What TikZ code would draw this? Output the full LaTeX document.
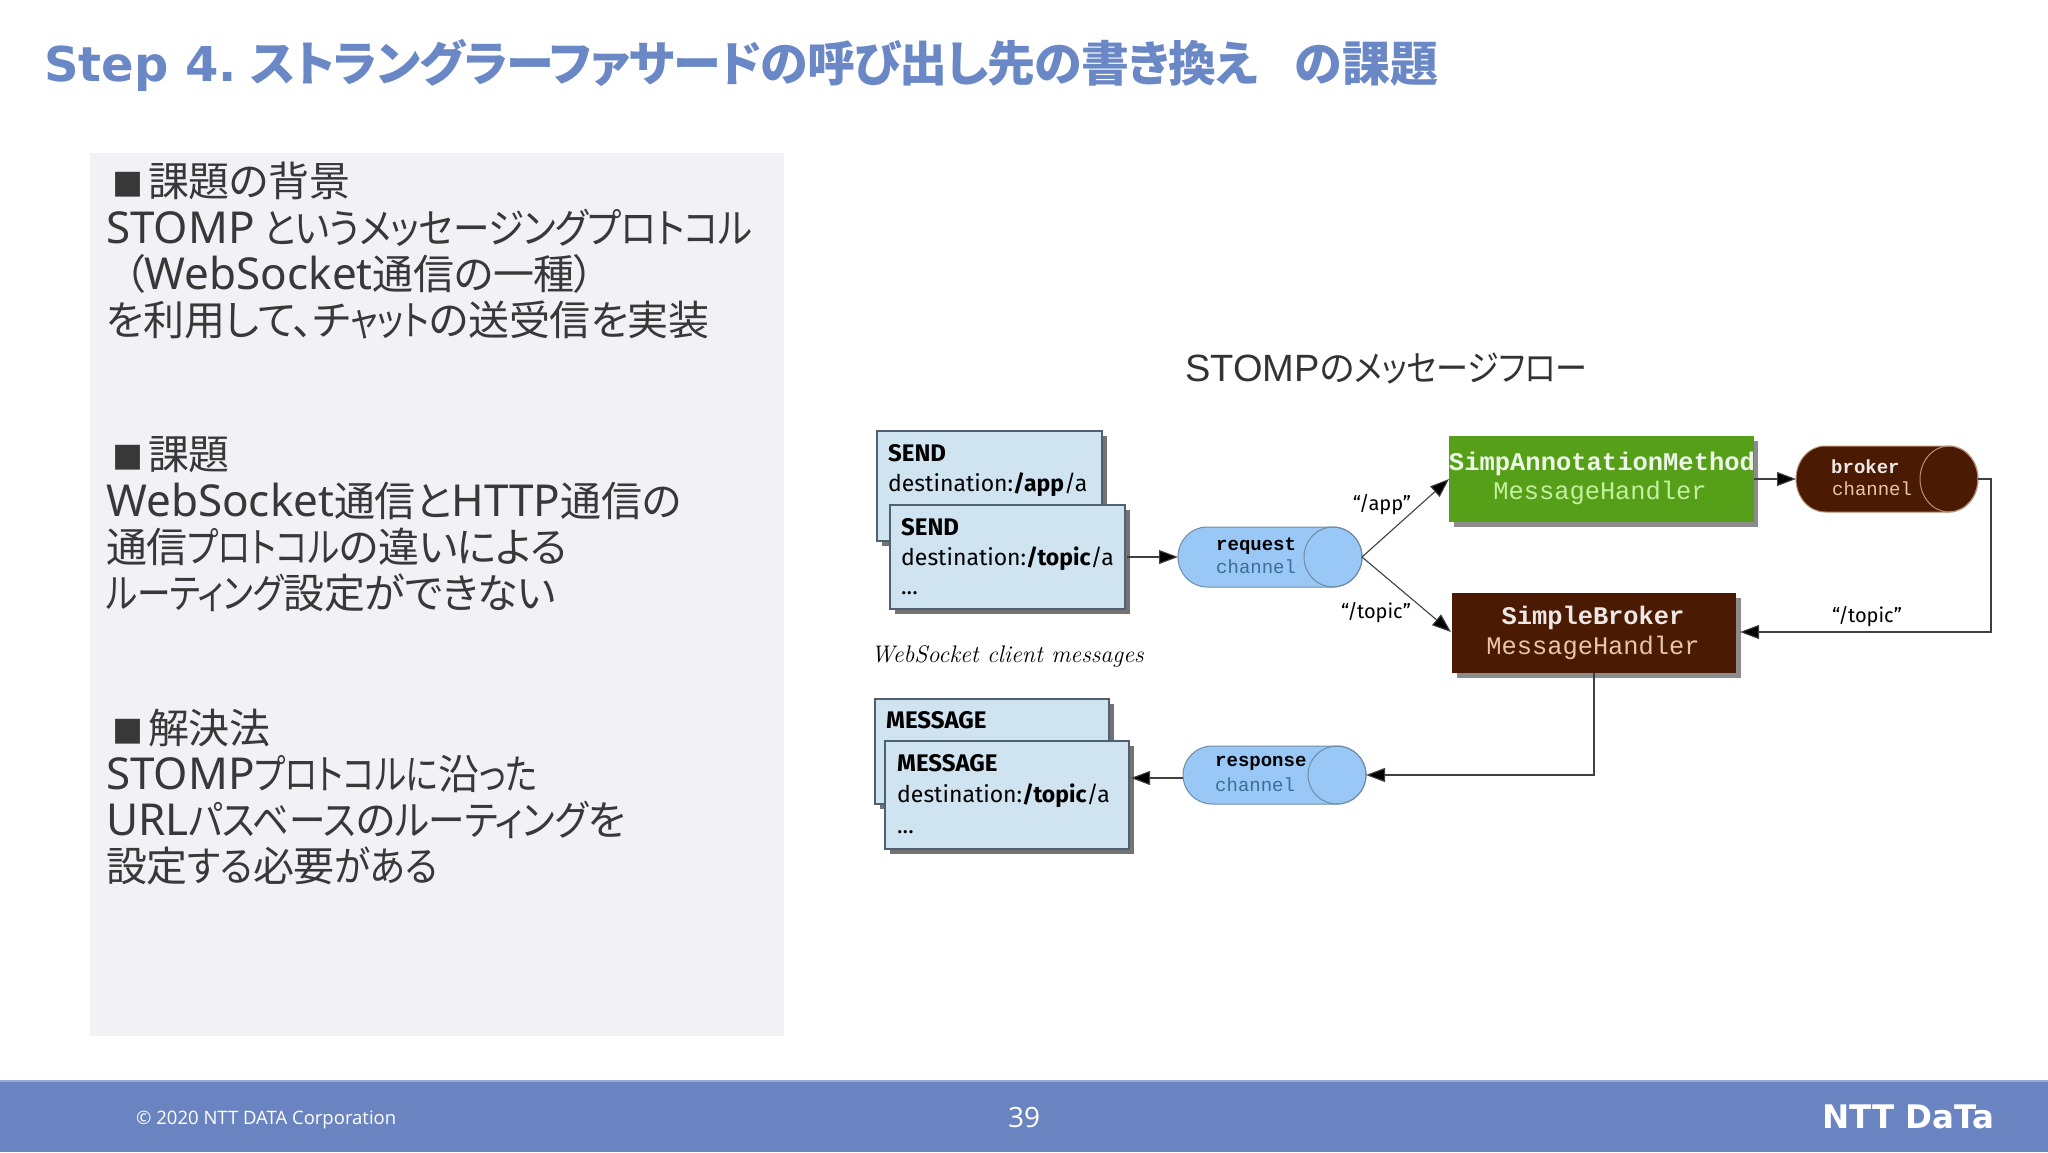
\documentclass[tikz,border=0pt]{standalone}
\usepackage{fontspec}
\newfontfamily\jpfont[RawFeature=+palt,LetterSpace=-1]{Noto Sans CJK JP}
\newfontfamily\kata[RawFeature=+palt,LetterSpace=-1,FakeStretch=0.82]{Noto Sans CJK JP}
\newfontfamily\katb[RawFeature=+palt,LetterSpace=-1,FakeStretch=0.89]{Noto Sans CJK JP}
\newfontfamily\titlefont[RawFeature=+palt,LetterSpace=-2]{Noto Sans CJK JP}
\newfontfamily\titlewide[RawFeature=+palt]{Noto Sans CJK JP}
\newfontfamily\lat{Noto Sans}
\newfontfamily\hand{Fira Sans}
\newfontfamily\mono{Liberation Mono}
\newfontfamily\cappt{Liberation Sans}
\newfontfamily\foot{Open Sans}
\newfontfamily\logofont{DejaVu Sans}
\usetikzlibrary{arrows.meta,shapes.geometric}
\definecolor{band}{HTML}{6A84C1}
\definecolor{titleblue}{HTML}{6A87C6}
\definecolor{panel}{HTML}{F2F1F5}
\definecolor{msg}{HTML}{CFE3F1}
\definecolor{msgline}{HTML}{4F6070}
\definecolor{chan}{HTML}{99C8F7}
\definecolor{chanline}{HTML}{6E8BA5}
\definecolor{chantext}{HTML}{3F6C96}
\definecolor{green}{HTML}{55A018}
\definecolor{greentext}{HTML}{C5F0A0}
\definecolor{brown}{HTML}{4A1A03}
\definecolor{browntext}{HTML}{E8C4A8}
\newcommand{\sq}{{\fontsize{31}{31}\selectfont\jpfont ■}\hspace{5pt}}
\newcommand{\la}[1]{{\fontsize{44}{46}\selectfont\lat #1}}
\newcommand{\ka}[1]{{\kata #1}}
\newcommand{\kb}[1]{{\katb #1}}
\tikzset{
  body/.style={anchor=west,inner sep=0pt,font=\fontsize{41}{46}\selectfont\jpfont,text=black!78},
  msgbox/.style={draw=msgline,line width=1.2pt,fill=msg},
  hd/.style={anchor=west,inner sep=0pt,font=\fontsize{24}{28}\selectfont\hand\bfseries},
  dest/.style={anchor=west,inner sep=0pt,font=\fontsize{23}{28}\selectfont\hand},
  lab/.style={inner sep=0pt,font=\fontsize{20}{24}\selectfont\hand},
  mb/.style={anchor=west,inner sep=0pt,font=\fontsize{19}{22}\selectfont\mono\bfseries},
  mr/.style={anchor=west,inner sep=0pt,font=\fontsize{19}{22}\selectfont\mono},
  conn/.style={draw=black!75,line width=1.1pt,-{Triangle[length=19pt,width=14pt,fill=black]}}
}
\newcommand{\chanshape}[7]{% name, x1, x2, cy, ry, fill, line
  \path[fill=#6,draw=#7,line width=1pt] ({#2+29},{#4-#5}) -- ({#3-29},{#4-#5}) arc[start angle=-90,end angle=90,x radius=29,y radius=#5] -- ({#2+29},{#4+#5}) arc[start angle=90,end angle=270,x radius=29,y radius=#5] -- cycle;
  \draw[#7,line width=1pt] ({#3-29},#4) ellipse[x radius=29,y radius=#5];
  \coordinate (#1 e) at (#3,#4);
  \coordinate (#1 w) at (#2,#4);
}
\newcommand{\boxedmsg}[5]{% name x1 y1 x2 y2
  \fill[black!55] ({#2+5},{#3+5}) rectangle ({#4+5},{#5+5});
  \path[msgbox] (#2,#3) rectangle (#4,#5);
  \coordinate (#1 e) at (#4,{(#3+#5)/2});
}
\begin{document}
\begin{tikzpicture}[x=1pt,y=-1pt]
\useasboundingbox (0,0) rectangle (2048,1152);
\fill[white] (0,0) rectangle (2048,1152);
% title
\node[anchor=west,inner sep=0pt,text=titleblue,font=\fontsize{48}{52}\selectfont\titlefont\bfseries] (title) at (44,65) {{\logofont\bfseries Step 4.} ストラングラーファサードの呼び出し先の書き換え　\hspace{-11pt}{\titlewide\bfseries の課題}};
% panel
\fill[panel] (90,153) rectangle (784,1036);
\node[body] (l1) at (112,181) {\sq 課題の背景};
\node[body] (l2) at (106,228) {\la{STOMP} \kb{というメッセージングプロトコル}};
\node[body] (l3) at (124,274) {（\la{WebSocket}通信の一種）};
\node[body] (l4) at (106,320) {を利用して、チ\ka{ャット}の送受信を実装};
\node[body] (l5) at (112,455) {\sq 課題};
\node[body] (l6) at (106,501) {\la{WebSocket}通信と\la{HTTP}通信の};
\node[body] (l7) at (106,547) {通信\ka{プロトコル}の違いによる};
\node[body] (l8) at (106,593) {\ka{ルーティング}設定ができない};
\node[body] (l9) at (112,728) {\sq 解決法};
\node[body] (l10) at (106,774) {\la{STOMP}\ka{プロトコルに}沿\ka{った}};
\node[body] (l11) at (106,820) {\la{URL}\kb{パスベース}の\kb{ルーティング}を};
\node[body] (l12) at (106,866) {設定\kb{する}必要\kb{がある}};
% caption
\node[anchor=west,inner sep=0pt,text=black!80,font=\fontsize{36}{40}\selectfont\jpfont] (cap) at (1185,369) {{\fontsize{38}{40}\selectfont\cappt STOMP}の\kb{メッセージフロー}};
% message boxes
\boxedmsg{s1}{877}{431}{1102}{541}
\node[hd] (s1a) at (888,453) {SEND};
\node[dest] (s1b) at (888,485) {destination:\textbf{/app}/a};
\boxedmsg{s2}{890}{505}{1125}{609}
\node[hd] (s2a) at (901,527) {SEND};
\node[dest] (s2b) at (901,559) {destination:\textbf{/topic}/a};
\node[dest] (s2c) at (901,593) {...};
\node[anchor=west,inner sep=0pt,font=\fontsize{24}{28}\selectfont\itshape] (ws) at (871,656) {WebSocket client messages};
\boxedmsg{m1}{875}{699}{1109}{804}
\node[hd] (m1a) at (886,720) {MESSAGE};
\boxedmsg{m2}{885}{741}{1129}{849}
\node[hd] (m2a) at (897,763) {MESSAGE};
\node[dest] (m2b) at (897,796) {destination:\textbf{/topic}/a};
\node[dest] (m2c) at (897,832) {...};
% channels
\chanshape{req}{1178}{1362}{557}{30}{chan}{chanline}
\node[mb] (req1) at (1216,546) {request};
\node[mr,text=chantext] (req2) at (1216,567) {channel};
\chanshape{res}{1183}{1366}{775}{29}{chan}{chanline}
\node[mb] (res1) at (1215,763) {response};
\node[mr,text=chantext] (res2) at (1215,785) {channel};
\chanshape{bro}{1796}{1978}{479}{33}{brown}{browntext!70!brown}
\node[mb,text=white!90!brown] (bro1) at (1831,467) {broker};
\node[mr,text=browntext] (bro2) at (1832,489) {channel};
% handlers
\fill[black!45] (1454,441) rectangle (1758,527);
\node[fill=green,anchor=north west,inner sep=0pt,minimum width=305pt,minimum height=86pt] (simp) at (1449,436) {};
\node[inner sep=0pt,text=white!90!green,font=\fontsize{25.5}{28}\selectfont\mono\bfseries] (simp1) at (1602,464) {SimpAnnotationMethod};
\node[inner sep=0pt,text=greentext,font=\fontsize{25.4}{28}\selectfont\mono] (simp2) at (1600,493) {MessageHandler};
\fill[black!45] (1457,598) rectangle (1741,678);
\node[fill=brown,anchor=north west,inner sep=0pt,minimum width=284pt,minimum height=80pt] (sb) at (1452,593) {};
\node[inner sep=0pt,text=white!90!brown,font=\fontsize{25.4}{28}\selectfont\mono\bfseries] (sb1) at (1593,618) {SimpleBroker};
\node[inner sep=0pt,text=browntext,font=\fontsize{25.4}{28}\selectfont\mono] (sb2) at (1593,648) {MessageHandler};
% connectors
\coordinate (sbin) at (1740,632);
\coordinate (simpin) at (1449,479);
\coordinate (sbwest) at (1451,632);
\coordinate (simpe) at (1754,479);
\coordinate (sbs) at (1594,673);
\coordinate (s2out) at (1127,557);
\coordinate (m2in) at (1131,778);
\draw[conn] (s2out) -- (req w);
\draw[conn] (req e) -- (simpin);
\draw[conn] (req e) -- (sbwest);
\draw[conn] (simpe) -- (bro w);
\draw[conn] (bro e) -- (1991,479) -- (1991,632) -- (sbin);
\draw[conn] (sbs) -- (1594,775) -- (res e);
\draw[conn] (res w |- m2in) -- (m2in);
\node[lab] (la) at (1382,505) {“/app”};
\node[lab] (lt) at (1376,613) {“/topic”};
\node[lab] (lt2) at (1867,617) {“/topic”};
% footer
\fill[band] (0,1080) rectangle (2048,1152);
\fill[band!70!white] (0,1080) rectangle (2048,1082);
\node[anchor=west,inner sep=0pt,text=white,font=\fontsize{18.5}{22}\selectfont\foot] (copy) at (136,1120) {© 2020 NTT DATA Corporation};
\node[inner sep=0pt,text=white,font=\fontsize{28}{32}\selectfont\foot] (page) at (1024,1117) {39};
\node[anchor=west,inner sep=0pt,text=white,font=\fontsize{32.5}{36}\selectfont\logofont\bfseries] (logo) at (1822,1117) {NTT DaTa};
\end{tikzpicture}
\end{document}
